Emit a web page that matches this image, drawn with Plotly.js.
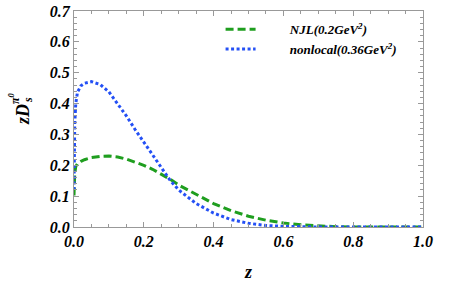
<!DOCTYPE html>
<html>
<head>
<meta charset="utf-8">
<script src="https://cdn.plot.ly/plotly-3.0.1.min.js"></script>
<style>html,body{margin:0;padding:0;background:#fff;}#chart{width:463px;height:290px;}</style>
</head>
<body>
<div id="chart"></div>
<script>
const zGrid = [0, 0.002, 0.005, 0.01, 0.02, 0.03, 0.05, 0.075, 0.1, 0.125, 0.15, 0.175, 0.2, 0.225, 0.25, 0.275, 0.3, 0.35, 0.4, 0.45, 0.5, 0.55, 0.6, 0.65, 0.7, 0.75, 0.8, 0.9, 1.0];
const njlValues = [0.102, 0.17, 0.196, 0.205, 0.213, 0.218, 0.225, 0.229, 0.23, 0.227, 0.22, 0.211, 0.2, 0.187, 0.172, 0.155, 0.136, 0.106, 0.076, 0.053, 0.035, 0.022, 0.013, 0.007, 0.003, 0.001, 0, 0, 0];
const nonlocalValues = [0.12, 0.33, 0.40, 0.437, 0.458, 0.466, 0.471, 0.462, 0.438, 0.4, 0.36, 0.316, 0.274, 0.232, 0.19, 0.152, 0.12, 0.076, 0.045, 0.024, 0.012, 0.005, 0.002, 0.0005, 0, 0, 0, 0, 0];
const seriesNames = ['NJL(0.2GeV<sup>2</sup>)', 'nonlocal(0.36GeV<sup>2</sup>)'];
const xTickVals = [0, 0.2, 0.4, 0.6, 0.8, 1.0];
const xTickText = ['0.0', '0.2', '0.4', '0.6', '0.8', '1.0'];
const yTickVals = [0, 0.1, 0.2, 0.3, 0.4, 0.5, 0.6, 0.7];
const yTickText = ['0.0', '0.1', '0.2', '0.3', '0.4', '0.5', '0.6', '0.7'];

const serif = '"Liberation Serif", "Times New Roman", serif';
const pad = '\u00A0\u00A0\u00A0\u00A0\u00A0\u00A0\u00A0\u00A0\u00A0';

const traces = [
  {x: zGrid, y: njlValues, name: pad + seriesNames[0], mode: 'lines', type: 'scatter',
   line: {color: '#1f9e1f', width: 3, dash: '8px,4px'}},
  {x: zGrid, y: nonlocalValues, name: pad + seriesNames[1], mode: 'lines', type: 'scatter',
   line: {color: '#2450f5', width: 3, dash: '3px,2.5px'}}
];

const axisCommon = {
  showgrid: false, zeroline: false, showline: true, linecolor: '#999', linewidth: 1,
  mirror: 'allticks', ticks: 'inside', ticklen: 5, tickcolor: '#999', tickwidth: 1,
  tickfont: {family: serif, size: 16, color: '#000', weight: 'bold', style: 'italic'}
};

const layout = {
  width: 463, height: 290,
  margin: {l: 74, r: 40, t: 11, b: 63},
  paper_bgcolor: '#fff', plot_bgcolor: '#fff',
  showlegend: true,
  legend: {x: 0.42, y: 0.985, xanchor: 'left', yanchor: 'top', bgcolor: 'rgba(0,0,0,0)',
           font: {family: serif, size: 13, color: '#000', weight: 'bold', style: 'italic'},
           tracegroupgap: 0, itemwidth: 30},
  xaxis: Object.assign({}, axisCommon, {
    range: [0, 1], tickvals: xTickVals, ticktext: xTickText,
    minor: {dtick: 0.05, ticks: 'inside', ticklen: 3, tickcolor: '#999', showgrid: false},
    title: {text: 'z', font: {family: serif, size: 18, color: '#000', weight: 'bold', style: 'italic'}, standoff: 16}
  }),
  yaxis: Object.assign({}, axisCommon, {
    range: [0, 0.7], tickvals: yTickVals, ticktext: yTickText,
    minor: {dtick: 0.02, ticks: 'inside', ticklen: 3, tickcolor: '#999', showgrid: false}
  }),
  annotations: [
    {text: 'zD', xref: 'paper', yref: 'paper', x: (23 - 74) / 349, y: (227 - 114) / 216, showarrow: false,
     textangle: -90, xanchor: 'center', yanchor: 'middle',
     font: {family: serif, size: 18, color: '#000', weight: 'bold', style: 'italic'}},
    {text: 's', xref: 'paper', yref: 'paper', x: (28 - 74) / 349, y: (227 - 100) / 216, showarrow: false,
     textangle: -90, xanchor: 'center', yanchor: 'middle',
     font: {family: serif, size: 12, color: '#000', weight: 'bold', style: 'italic'}},
    {text: 'π<sup>0</sup>', xref: 'paper', yref: 'paper', x: (14 - 74) / 349, y: (227 - 98) / 216, showarrow: false,
     textangle: -90, xanchor: 'center', yanchor: 'middle',
     font: {family: serif, size: 12, color: '#000', weight: 'bold', style: 'italic'}}
  ]
};

Plotly.newPlot('chart', traces, layout, {staticPlot: true, displayModeBar: false});
</script>
</body>
</html>
